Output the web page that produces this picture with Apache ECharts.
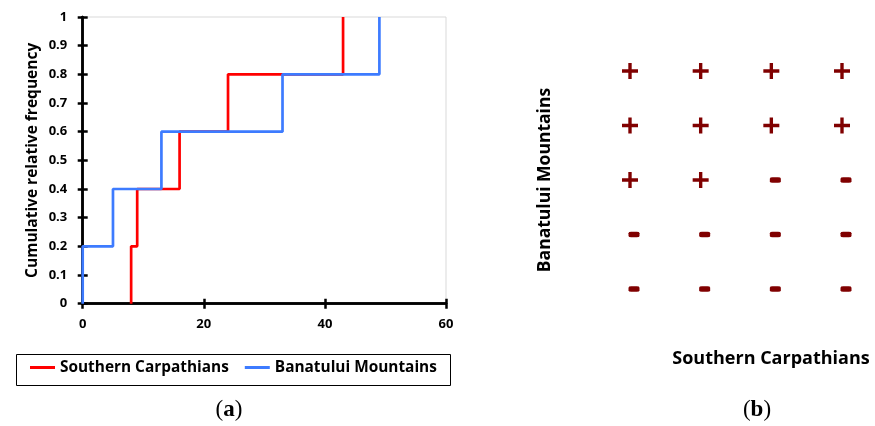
<!DOCTYPE html>
<html>
<head>
<meta charset="utf-8">
<script src="https://cdn.jsdelivr.net/npm/echarts@6/dist/echarts.min.js"></script>
<style>
html,body{margin:0;padding:0;background:#fff;}
#chart{width:875px;height:426px;}
</style>
</head>
<body>
<div id="chart"></div>
<script>
// ---- data (a): empirical cumulative distributions ----
const seriesNames = ['Southern Carpathians', 'Banatului Mountains'];
const southernX = [8, 8, 9, 16, 24, 43];
const southernY = [0, 0.2, 0.4, 0.6, 0.8, 1.0];
const banatuluiX = [0, 0, 5, 13, 33, 49];
const banatuluiY = [0, 0.2, 0.4, 0.6, 0.8, 1.0];

// ---- data (b): sign matrix (rows top to bottom, columns left to right) ----
const signRow1 = ['+', '+', '+', '+'];
const signRow2 = ['+', '+', '+', '+'];
const signRow3 = ['+', '+', '-', '-'];
const signRow4 = ['-', '-', '-', '-'];
const signRow5 = ['-', '-', '-', '-'];
const signRows = [signRow1, signRow2, signRow3, signRow4, signRow5];

const FONT = '"Open Sans", sans-serif';
const pair = (xs, ys) => xs.map((x, i) => [x, ys[i]]);

const plusPath = 'path://M6,0H9.2V6H15.2V9.2H9.2V15.2H6V9.2H0V6H6Z';
const signData = [];
signRows.forEach((row, r) => {
  row.forEach((s, c) => {
    signData.push({
      value: [c + 1, signRows.length - r],
      symbol: s === '+' ? plusPath : 'roundRect',
      symbolSize: s === '+' ? [16, 16] : [11, 5.5],
      symbolOffset: s === '+' ? [0, 0] : [4, 0]
    });
  });
});

const axisCommon = {
  axisLine: { show: true, onZero: false, lineStyle: { color: '#000', width: 2.5 } },
  splitLine: { show: false }
};

const chart = echarts.init(document.getElementById('chart'), null, { renderer: 'canvas' });
chart.setOption({
  backgroundColor: '#fff',
  animation: false,
  grid: [
    { left: 82.7, top: 17, width: 363.3, height: 286.7, show: true, borderColor: '#d9d9d9', borderWidth: 1, backgroundColor: 'transparent' },
    { left: 630, top: 71, width: 212, height: 218 }
  ],
  xAxis: [
    Object.assign({
      type: 'value', gridIndex: 0, min: 0, max: 60, interval: 20,
      axisTick: { show: true, length: 5, lineStyle: { color: '#000', width: 2.5 } },
      axisLabel: { margin: 14, color: '#000', fontFamily: FONT, fontWeight: 'bold', fontSize: 13 }
    }, axisCommon),
    Object.assign({
      type: 'value', gridIndex: 0, min: 0, max: 60, interval: 20, position: 'bottom',
      axisTick: { show: true, inside: true, length: 5, lineStyle: { color: '#000', width: 2.5 } },
      axisLabel: { show: false }
    }, axisCommon),
    { type: 'value', gridIndex: 1, min: 1, max: 4, show: false }
  ],
  yAxis: [
    Object.assign({
      type: 'value', gridIndex: 0, min: 0, max: 1, interval: 0.1,
      axisTick: { show: true, length: 5, lineStyle: { color: '#000', width: 2.5 } },
      axisLabel: { margin: 15.5, color: '#000', fontFamily: FONT, fontWeight: 'bold', fontSize: 13,
        formatter: v => (Math.round(v * 10) / 10).toString() },
      name: 'Cumulative relative frequency', nameLocation: 'middle', nameGap: 42,
      nameTextStyle: { color: '#000', fontFamily: FONT, fontWeight: 'bold', fontSize: 15.5 }
    }, axisCommon),
    Object.assign({
      type: 'value', gridIndex: 0, min: 0, max: 1, interval: 0.1, position: 'left',
      axisTick: { show: true, inside: true, length: 5, lineStyle: { color: '#000', width: 2.5 } },
      axisLabel: { show: false }
    }, axisCommon),
    { type: 'value', gridIndex: 1, min: 1, max: 5, show: false }
  ],
  legend: {
    left: 30, top: 360, padding: 0, itemWidth: 25, itemHeight: 3, itemGap: 16, icon: 'rect',
    data: seriesNames,
    textStyle: { color: '#000', fontFamily: FONT, fontWeight: 'bold', fontSize: 15.4 }
  },
  series: [
    {
      name: seriesNames[0], type: 'line', xAxisIndex: 0, yAxisIndex: 0, step: 'end',
      data: pair(southernX, southernY), showSymbol: false, symbol: 'none',
      lineStyle: { color: '#ff0000', width: 2.7 }, itemStyle: { color: '#ff0000' }, z: 3
    },
    {
      name: seriesNames[1], type: 'line', xAxisIndex: 0, yAxisIndex: 0, step: 'end',
      data: pair(banatuluiX, banatuluiY), showSymbol: false, symbol: 'none',
      lineStyle: { color: '#3d7bff', width: 2.7 }, itemStyle: { color: '#3d7bff' }, z: 4
    },
    {
      type: 'scatter', xAxisIndex: 2, yAxisIndex: 2, data: signData,
      itemStyle: { color: '#800000', opacity: 1 }, silent: true
    }
  ],
  graphic: [
    { type: 'rect', left: 14, top: 352, shape: { width: 434, height: 31 }, style: { fill: 'none', stroke: '#000', lineWidth: 1 }, silent: true },
    {
      type: 'text', x: 229, y: 410,
      style: {
        text: '{p|(}{b|a}{p|)}', align: 'center', verticalAlign: 'middle',
        rich: {
          p: { fontFamily: '"Liberation Serif", serif', fontSize: 23, fill: '#000' },
          b: { fontFamily: '"Liberation Serif", serif', fontSize: 23, fontWeight: 'bold', fill: '#000' }
        }
      }
    },
    {
      type: 'text', x: 757, y: 410,
      style: {
        text: '{p|(}{b|b}{p|)}', align: 'center', verticalAlign: 'middle',
        rich: {
          p: { fontFamily: '"Liberation Serif", serif', fontSize: 23, fill: '#000' },
          b: { fontFamily: '"Liberation Serif", serif', fontSize: 23, fontWeight: 'bold', fill: '#000' }
        }
      }
    },
    {
      type: 'text', x: 771, y: 359,
      style: { text: 'Southern Carpathians', align: 'center', verticalAlign: 'middle',
        fontFamily: FONT, fontWeight: 'bold', fontSize: 18, fill: '#000' }
    },
    {
      type: 'text', x: 545, y: 180, rotation: Math.PI / 2,
      style: { text: 'Banatului Mountains', align: 'center', verticalAlign: 'middle',
        fontFamily: FONT, fontWeight: 'bold', fontSize: 17.5, fill: '#000' }
    }
  ]
});
</script>
</body>
</html>
